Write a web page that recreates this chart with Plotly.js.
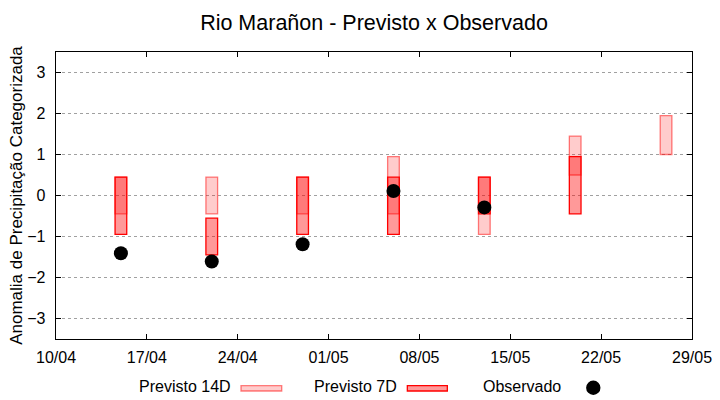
<!DOCTYPE html>
<html>
<head>
<meta charset="utf-8">
<script src="https://cdn.plot.ly/plotly-3.0.1.min.js"></script>
<style>html,body{margin:0;padding:0;background:#fff;}#chart{width:720px;height:400px;}</style>
</head>
<body>
<div id="chart"></div>
<script>
// Data
const dates = ['2024-04-15','2024-04-22','2024-04-29','2024-05-06','2024-05-13','2024-05-20','2024-05-27'];
const p14Low  = [-0.45, -0.45, -0.45, -0.45, -0.95, 0.5, 1.0];
const p14High = [ 0.45,  0.45,  0.45,  0.95,  0.45, 1.45, 1.95];
const p7Low   = [-0.95, -1.45, -0.95, -0.95, -0.45, -0.45, null];
const p7High  = [ 0.45, -0.55,  0.45,  0.45,  0.45,  0.95, null];
const obsDates = ['2024-04-15','2024-04-22','2024-04-29','2024-05-06','2024-05-13'];
const obsValues = [-1.41, -1.61, -1.19, 0.11, -0.29];
const tickDates = ['2024-04-10','2024-04-17','2024-04-24','2024-05-01','2024-05-08','2024-05-15','2024-05-22','2024-05-29'];
const tickLabels = ['10/04','17/04','24/04','01/05','08/05','15/05','22/05','29/05'];

const DAY = 86400000;
const barW = 0.9 * DAY;

function barTrace(name, low, high, fill, line) {
  const x = [], base = [], y = [];
  for (let i = 0; i < dates.length; i++) {
    if (low[i] === null || high[i] === null) continue;
    x.push(dates[i]); base.push(low[i]); y.push(high[i] - low[i]);
  }
  return {
    type: 'bar', name: name, x: x, y: y, base: base,
    width: x.map(() => barW),
    marker: {color: fill, line: {color: line, width: 1.3}},
    showlegend: false, hoverinfo: 'skip'
  };
}

const traces = [
  barTrace('Previsto 14D', p14Low, p14High, 'rgba(255,0,0,0.2)', 'rgba(255,0,0,0.5)'),
  barTrace('Previsto 7D', p7Low, p7High, 'rgba(255,0,0,0.4)', 'rgb(255,0,0)'),
  {
    type: 'scatter', mode: 'markers', name: 'Observado',
    x: obsDates, y: obsValues,
    marker: {color: '#000', size: 14, symbol: 'circle'},
    showlegend: false, hoverinfo: 'skip'
  }
];

const font = {family: 'Liberation Sans, Arial, sans-serif', size: 16, color: '#000'};

// custom gnuplot-style legend (text then sample)
const ly = -0.166;
const annotations = [
  {text: 'Previsto 14D', x: 0.2778, xanchor: 'right'},
  {text: 'Previsto 7D', x: 0.5388, xanchor: 'right'},
  {text: 'Observado', x: 0.7976, xanchor: 'right'}
].map(a => Object.assign({xref: 'paper', yref: 'paper', y: ly, yanchor: 'middle', showarrow: false, font: font}, a));

const shapes = [
  {type: 'rect', xref: 'paper', yref: 'paper', x0: 0.2909, x1: 0.3549, y0: -0.1627, y1: -0.1812,
   fillcolor: 'rgba(255,0,0,0.2)', line: {color: 'rgba(255,0,0,0.5)', width: 1.3}},
  {type: 'rect', xref: 'paper', yref: 'paper', x0: 0.5524, x1: 0.6153, y0: -0.1627, y1: -0.1812,
   fillcolor: 'rgba(255,0,0,0.4)', line: {color: 'rgb(255,0,0)', width: 1.3}},
  {type: 'circle', xref: 'paper', yref: 'paper', x0: 0.8448 - 0.0113, x1: 0.8448 + 0.0113, y0: -0.1697 - 0.025, y1: -0.1697 + 0.025,
   fillcolor: '#000', line: {color: '#000', width: 0}}
];

const layout = {
  width: 720, height: 400,
  margin: {l: 56, r: 28, t: 52, b: 61},
  paper_bgcolor: '#fff', plot_bgcolor: '#fff',
  font: font,
  barmode: 'overlay',
  title: {text: 'Rio Marañon - Previsto x Observado', font: {family: font.family, size: 21.5, color: '#000'},
          x: 0.5, xref: 'paper', xanchor: 'center', y: 0.945, yref: 'container', yanchor: 'middle'},
  xaxis: {
    type: 'date', range: ['2024-04-10', '2024-05-29'],
    tickmode: 'array', tickvals: tickDates, ticktext: tickLabels,
    ticks: 'inside', ticklen: 5, tickcolor: '#000', tickwidth: 1,
    showline: true, linecolor: '#000', linewidth: 1.3, mirror: 'ticks',
    showgrid: false, zeroline: false, tickfont: font, ticklabelstandoff: 3
  },
  yaxis: {
    range: [-3.5, 3.5], tickmode: 'array', tickvals: [-3,-2,-1,0,1,2,3],
    ticks: 'inside', ticklen: 5, tickcolor: '#000', tickwidth: 1,
    showline: true, linecolor: '#000', linewidth: 1.3, mirror: 'ticks',
    showgrid: true, gridcolor: '#a0a0a0', griddash: 'dot', gridwidth: 1,
    zeroline: false, tickfont: font, ticklabelstandoff: 6,
    title: {text: 'Anomalia de Precipitação Categorizada', font: {family: font.family, size: 17, color: '#000'}, standoff: 0}
  },
  annotations: annotations,
  shapes: shapes
};

Plotly.newPlot('chart', traces, layout, {displayModeBar: false, staticPlot: true});
</script>
</body>
</html>
